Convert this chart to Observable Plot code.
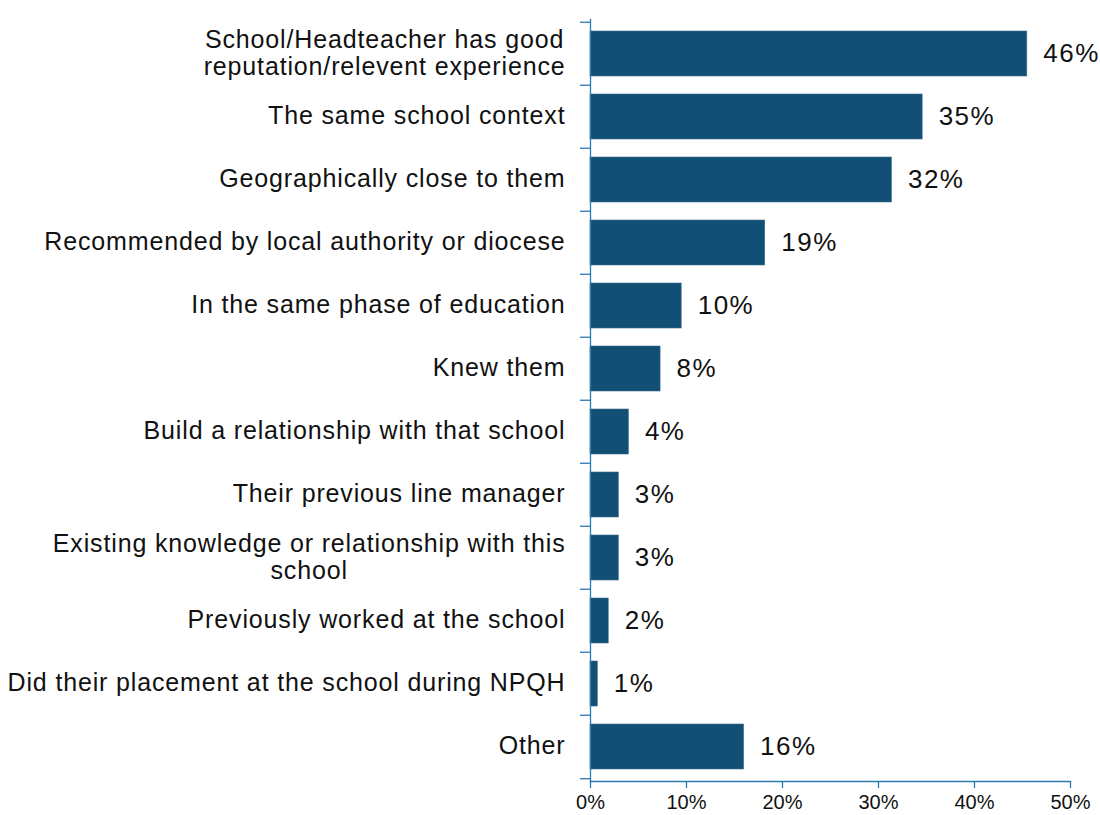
<!DOCTYPE html>
<html>
<head>
<meta charset="utf-8">
<script src="https://cdn.jsdelivr.net/npm/d3@7"></script>
<script src="https://cdn.jsdelivr.net/npm/@observablehq/plot@0.6"></script>
<style>
  html, body { margin: 0; padding: 0; background: #fff; }
  #chart { width: 1100px; height: 815px; }
  svg { font-family: "Liberation Sans", Arial, sans-serif; }
  g[aria-label="y-axis tick label"] text { letter-spacing: 0.85px; }
  g[aria-label="text"] text { letter-spacing: 1.5px; }
</style>
</head>
<body>
<div id="chart"></div>
<script>
// ---- data ----
const categories = [
  "School/Headteacher has good\nreputation/relevent experience",
  "The same school context",
  "Geographically close to them",
  "Recommended by local authority or diocese",
  "In the same phase of education",
  "Knew them",
  "Build a relationship with that school",
  "Their previous line manager",
  "Existing knowledge or relationship with this\nschool",
  "Previously worked at the school",
  "Did their placement at the school during NPQH",
  "Other"
];
const values = [45.5, 34.6, 31.4, 18.2, 9.5, 7.3, 4.0, 2.95, 2.95, 1.9, 0.76, 16.0];
const valueLabels = ["46%", "35%", "32%", "19%", "10%", "8%", "4%", "3%", "3%", "2%", "1%", "16%"];
const xTicks = [0, 10, 20, 30, 40, 50];

const data = categories.map((c, i) => ({category: c, value: values[i], label: valueLabels[i]}));

// ---- layout / style ----
const W = 1100, H = 815;
const mt = 19, mb = 34, ml = 590, mr = 30;
const padInner = 0.29;
const step = (H - mt - mb) / categories.length;
const barColor = "#124f74";
const axisColor = "#2a7ab0";
const textColor = "#111";

const chart = Plot.plot({
  width: W,
  height: H,
  marginTop: mt,
  marginBottom: mb,
  marginLeft: ml,
  marginRight: mr,
  style: {fontFamily: "Liberation Sans, Arial, sans-serif", color: textColor, background: "#fff"},
  x: {domain: [0, 50]},
  y: {domain: categories, paddingInner: padInner, paddingOuter: padInner / 2},
  marks: [
    Plot.barX(data, {x: "value", y: "category", fill: barColor, stroke: "#3f6f90", strokeWidth: 0.6}),
    // category boundary ticks (left of axis)
    Plot.axisY({ticks: categories, tickSize: 10, text: null, label: null, stroke: axisColor, strokeWidth: 1.3, dy: -step / 2}),
    Plot.axisY({ticks: [categories[categories.length - 1]], tickSize: 10, text: null, label: null, stroke: axisColor, strokeWidth: 1.3, dy: step / 2}),
    // category labels
    Plot.axisY({tickSize: 0, tickPadding: 25, fontSize: 25, lineHeight: 1.05, fill: textColor, dy: -1, label: null}),
    // axis lines
    Plot.frame({anchor: "left", stroke: axisColor, strokeWidth: 1.3}),
    Plot.frame({anchor: "bottom", stroke: axisColor, strokeWidth: 1.3}),
    // x axis
    Plot.axisX({ticks: xTicks, tickFormat: d => d + "%", tickSize: 7, tickPadding: 6, fontSize: 20, stroke: axisColor, strokeWidth: 1.3, fill: textColor, label: null}),
    // value labels
    Plot.text(data, {x: "value", y: "category", text: "label", dx: 16, dy: 0, textAnchor: "start", fontSize: 26, fill: textColor})
  ]
});

document.getElementById("chart").appendChild(chart);

// center multi-line category labels within their block (as in the original)
chart.querySelectorAll("text").forEach(t => {
  const spans = t.querySelectorAll("tspan");
  if (spans.length > 1) {
    let maxW = 0;
    spans.forEach(s => { maxW = Math.max(maxW, s.getComputedTextLength()); });
    t.setAttribute("text-anchor", "middle");
    spans.forEach(s => s.setAttribute("x", -maxW / 2));
  }
});
</script>
</body>
</html>
